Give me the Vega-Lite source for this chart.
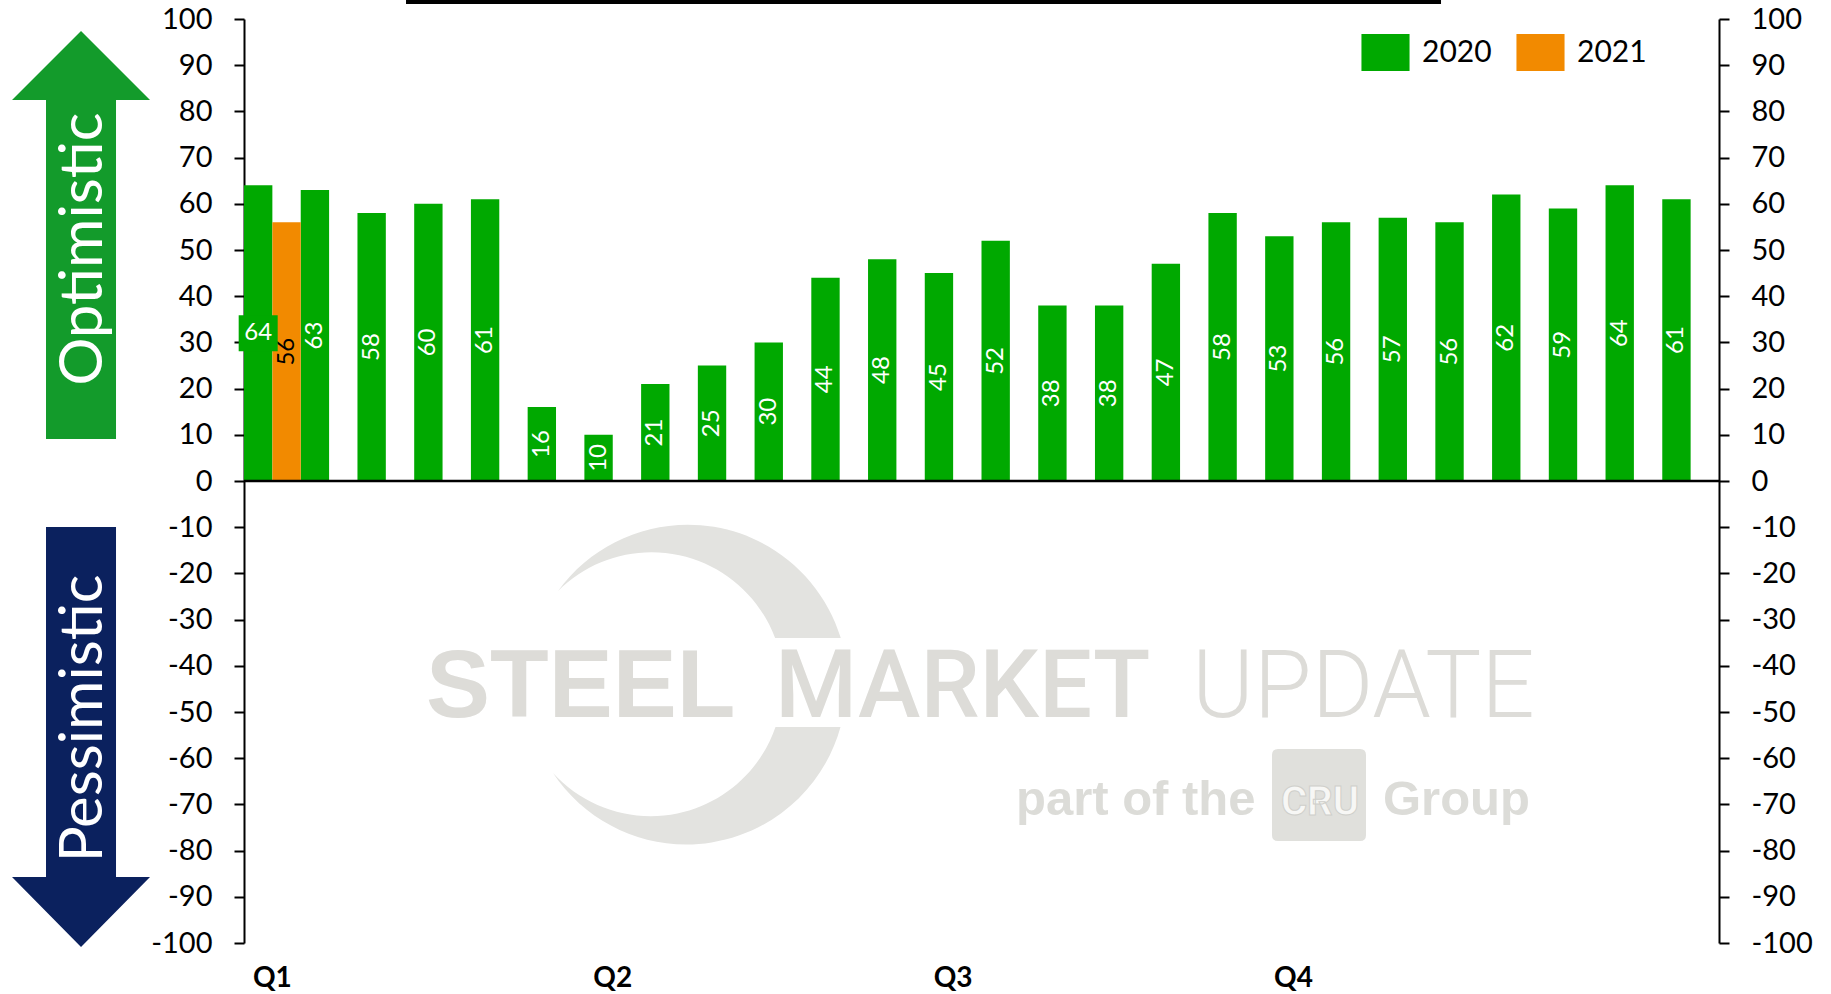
{
  "$schema": "https://vega.github.io/schema/vega-lite/v6.json",
  "width": 1475,
  "height": 924,
  "autosize": {"type": "none"},
  "padding": {"left": 244, "top": 19, "right": 112, "bottom": 51},
  "background": "white",
  "config": {
    "view": {"stroke": null},
    "font": "Lato",
    "axis": {"labelFont": "Lato", "titleFont": "Lato"},
    "legend": {"labelFont": "Lato"}
  },
  "data": {
    "values": [
      {"slot": 0, "year": "2020", "value": 64},
      {"slot": 1, "year": "2020", "value": 63},
      {"slot": 2, "year": "2020", "value": 58},
      {"slot": 3, "year": "2020", "value": 60},
      {"slot": 4, "year": "2020", "value": 61},
      {"slot": 5, "year": "2020", "value": 16},
      {"slot": 6, "year": "2020", "value": 10},
      {"slot": 7, "year": "2020", "value": 21},
      {"slot": 8, "year": "2020", "value": 25},
      {"slot": 9, "year": "2020", "value": 30},
      {"slot": 10, "year": "2020", "value": 44},
      {"slot": 11, "year": "2020", "value": 48},
      {"slot": 12, "year": "2020", "value": 45},
      {"slot": 13, "year": "2020", "value": 52},
      {"slot": 14, "year": "2020", "value": 38},
      {"slot": 15, "year": "2020", "value": 38},
      {"slot": 16, "year": "2020", "value": 47},
      {"slot": 17, "year": "2020", "value": 58},
      {"slot": 18, "year": "2020", "value": 53},
      {"slot": 19, "year": "2020", "value": 56},
      {"slot": 20, "year": "2020", "value": 57},
      {"slot": 21, "year": "2020", "value": 56},
      {"slot": 22, "year": "2020", "value": 62},
      {"slot": 23, "year": "2020", "value": 59},
      {"slot": 24, "year": "2020", "value": 64},
      {"slot": 25, "year": "2020", "value": 61},
      {"slot": 0, "year": "2021", "value": 56}
    ]
  },
  "resolve": {"scale": {"x": "independent", "y": "independent"}},
  "layer": [
    {
      "layer": [
        {
          "mark": {"type": "bar"},
          "encoding": {
            "x": {
              "field": "slot", "type": "ordinal",
              "scale": {"domain": [0,1,2,3,4,5,6,7,8,9,10,11,12,13,14,15,16,17,18,19,20,21,22,23,24,25], "paddingInner": 0, "paddingOuter": 0},
              "axis": {
                "orient": "bottom", "values": [0, 6, 12, 18],
                "labelExpr": "datum.value == 0 ? 'Q1' : datum.value == 6 ? 'Q2' : datum.value == 12 ? 'Q3' : 'Q4'",
                "labelFontWeight": "bold", "labelFontSize": 28, "labelColor": "black",
                "labelAngle": 0, "ticks": false, "domain": false, "labelPadding": 21,
                "title": null, "grid": false, "labelOverlap": false
              }
            },
            "xOffset": {"field": "year", "type": "nominal", "scale": {"domain": ["2020", "2021"], "paddingInner": 0, "paddingOuter": 0}},
            "y": {
              "field": "value", "type": "quantitative",
              "scale": {"domain": [-100, 100], "nice": false},
              "axis": {
                "orient": "left", "values": [-100,-90,-80,-70,-60,-50,-40,-30,-20,-10,0,10,20,30,40,50,60,70,80,90,100],
                "labelExpr": "'' + datum.value",
                "tickSize": 10, "tickWidth": 2, "tickColor": "black",
                "domainColor": "black", "domainWidth": 2,
                "labelFontSize": 29, "labelColor": "black", "labelPadding": 22,
                "grid": false, "title": null
              }
            },
            "color": {
              "field": "year", "type": "nominal",
              "scale": {"domain": ["2020", "2021"], "range": ["#00A900", "#F28A00"]},
              "legend": {
                "orient": "none", "legendX": 1123, "legendY": 15, "direction": "horizontal",
                "symbolType": "M-1.3,-1H1.3V1H-1.3Z", "symbolSize": 1369, "symbolStrokeWidth": 0,
                "symbolOpacity": 1,
                "labelFontSize": 30, "labelColor": "black", "labelOffset": 18,
                "columnPadding": 24, "title": null, "padding": 0
              }
            }
          }
        },
        {
          "data": {"values": [{"k": 0}]},
          "mark": {"type": "rule", "color": "black", "strokeWidth": 2.5},
          "encoding": {"y": {"datum": 0, "type": "quantitative"}}
        }
      ]
    },
    {
      "layer": [
        {
          "transform": [{"filter": "!(datum.slot == 0 && datum.year == '2020')"}],
          "mark": {"type": "text", "angle": 270, "align": "center", "baseline": "middle", "fontSize": 24, "font": "Lato"},
          "encoding": {
            "x": {"field": "slot", "type": "ordinal", "scale": {"domain": [0,1,2,3,4,5,6,7,8,9,10,11,12,13,14,15,16,17,18,19,20,21,22,23,24,25], "paddingInner": 0, "paddingOuter": 0}, "axis": null},
            "xOffset": {"field": "year", "type": "nominal", "scale": {"domain": ["2020", "2021"], "paddingInner": 0, "paddingOuter": 0}},
            "y": {"field": "value", "type": "quantitative", "scale": {"domain": [-200, 200], "nice": false}, "axis": null},
            "text": {"field": "value", "type": "quantitative"},
            "color": {"condition": {"test": "datum.year == '2021'", "value": "black"}, "value": "white"}
          }
        },
        {
          "transform": [{"filter": "datum.slot == 0 && datum.year == '2020'"}],
          "mark": {"type": "point", "shape": "M-19.5,-18H19.5V18H-19.5Z", "size": 4, "filled": true, "fill": "#00A900", "strokeWidth": 0, "opacity": 1},
          "encoding": {
            "x": {"field": "slot", "type": "ordinal", "scale": {"domain": [0,1,2,3,4,5,6,7,8,9,10,11,12,13,14,15,16,17,18,19,20,21,22,23,24,25], "paddingInner": 0, "paddingOuter": 0}, "axis": null},
            "xOffset": {"field": "year", "type": "nominal", "scale": {"domain": ["2020", "2021"], "paddingInner": 0, "paddingOuter": 0}},
            "y": {"field": "value", "type": "quantitative", "scale": {"domain": [-200, 200], "nice": false}, "axis": null}
          }
        },
        {
          "transform": [{"filter": "datum.slot == 0 && datum.year == '2020'"}],
          "mark": {"type": "text", "align": "center", "baseline": "middle", "fontSize": 24, "font": "Lato", "fill": "white"},
          "encoding": {
            "x": {"field": "slot", "type": "ordinal", "scale": {"domain": [0,1,2,3,4,5,6,7,8,9,10,11,12,13,14,15,16,17,18,19,20,21,22,23,24,25], "paddingInner": 0, "paddingOuter": 0}, "axis": null},
            "xOffset": {"field": "year", "type": "nominal", "scale": {"domain": ["2020", "2021"], "paddingInner": 0, "paddingOuter": 0}},
            "y": {"field": "value", "type": "quantitative", "scale": {"domain": [-200, 200], "nice": false}, "axis": null},
            "text": {"field": "value", "type": "quantitative"}
          }
        }
      ]
    },
    {
      "layer": [
        {
          "data": {"values": [{"k": "crescent"}]},
          "mark": {"type": "point", "shape": "M-129,-91A160,160 0 0 1 153.8,-44L88.1,-44A132,132 0 0 0 -129,-91ZM153.5,45A160,160 0 0 1 -134,91A132,132 0 0 0 88.5,45Z", "size": 4, "filled": true, "fill": "#e3e3e0", "strokeWidth": 0, "opacity": 1},
          "encoding": {
            "x": {"datum": 7.809, "type": "quantitative", "scale": {"domain": [0, 26], "nice": false, "zero": false}, "axis": null},
            "y": {"datum": -43.51, "type": "quantitative", "scale": {"domain": [-100, 100], "nice": false},
              "axis": {
                "orient": "right", "values": [-100,-90,-80,-70,-60,-50,-40,-30,-20,-10,0,10,20,30,40,50,60,70,80,90,100],
                "labelExpr": "'' + datum.value",
                "tickSize": 10, "tickWidth": 2, "tickColor": "black",
                "domainColor": "black", "domainWidth": 2,
                "labelFontSize": 29, "labelColor": "black", "labelPadding": 22,
                "grid": false, "title": null
              }
            }
          }
        },
        {
          "data": {"values": [{"k": "STEEL"}]},
          "mark": {"type": "text", "text": "STEEL", "font": "Liberation Sans", "fontWeight": "bold", "fontSize": 96, "align": "left", "baseline": "alphabetic", "fill": "#dddcd8"},
          "encoding": {
            "x": {"datum": 3.208, "type": "quantitative", "scale": {"domain": [0, 26], "nice": false, "zero": false}},
            "y": {"datum": -51.08, "type": "quantitative", "scale": {"domain": [-100, 100], "nice": false}}
          }
        },
        {
          "data": {"values": [{"k": "MARKET"}]},
          "mark": {"type": "text", "text": "MARKET", "font": "Roboto", "fontWeight": 500, "fontSize": 94, "align": "left", "baseline": "alphabetic", "fill": "#dddcd8"},
          "encoding": {
            "x": {"datum": 9.361, "type": "quantitative", "scale": {"domain": [0, 26], "nice": false, "zero": false}},
            "y": {"datum": -51.08, "type": "quantitative", "scale": {"domain": [-100, 100], "nice": false}}
          }
        },
        {
          "data": {"values": [{"k": "UPDATE"}]},
          "mark": {"type": "text", "text": "UPDATE", "font": "Roboto", "fontWeight": 300, "fontSize": 94, "align": "left", "baseline": "alphabetic", "fill": "#dddcd8"},
          "encoding": {
            "x": {"datum": 16.711, "type": "quantitative", "scale": {"domain": [0, 26], "nice": false, "zero": false}},
            "y": {"datum": -51.08, "type": "quantitative", "scale": {"domain": [-100, 100], "nice": false}}
          }
        },
        {
          "data": {"values": [{"k": "part"}]},
          "mark": {"type": "text", "text": "part of the", "font": "Liberation Sans", "fontWeight": "bold", "fontSize": 49, "align": "left", "baseline": "alphabetic", "fill": "#dcdcd8"},
          "encoding": {
            "x": {"datum": 13.608, "type": "quantitative", "scale": {"domain": [0, 26], "nice": false, "zero": false}},
            "y": {"datum": -72.29, "type": "quantitative", "scale": {"domain": [-100, 100], "nice": false}}
          }
        },
        {
          "data": {"values": [{"k": "crubox"}]},
          "mark": {"type": "point", "shape": "M-41,-46H41Q47,-46 47,-40V40Q47,46 41,46H-41Q-47,46 -47,40V-40Q-47,-46 -41,-46Z", "size": 4, "filled": true, "fill": "#e0e0dc", "strokeWidth": 0, "opacity": 1},
          "encoding": {
            "x": {"datum": 18.949, "type": "quantitative", "scale": {"domain": [0, 26], "nice": false, "zero": false}},
            "y": {"datum": -67.97, "type": "quantitative", "scale": {"domain": [-100, 100], "nice": false}}
          }
        },
        {
          "data": {"values": [{"k": "CRU"}]},
          "mark": {"type": "text", "text": "CRU", "font": "Liberation Sans Narrow, Roboto", "fontWeight": "bold", "fontSize": 40, "align": "center", "baseline": "alphabetic", "fill": "#f7f7f5", "stroke": "#cfcfcb", "strokeWidth": 1},
          "encoding": {
            "x": {"datum": 18.967, "type": "quantitative", "scale": {"domain": [0, 26], "nice": false, "zero": false}},
            "y": {"datum": -72.29, "type": "quantitative", "scale": {"domain": [-100, 100], "nice": false}}
          }
        },
        {
          "data": {"values": [{"k": "Group"}]},
          "mark": {"type": "text", "text": "Group", "font": "Liberation Sans", "fontWeight": "bold", "fontSize": 49, "align": "left", "baseline": "alphabetic", "fill": "#dcdcd8"},
          "encoding": {
            "x": {"datum": 20.077, "type": "quantitative", "scale": {"domain": [0, 26], "nice": false, "zero": false}},
            "y": {"datum": -72.29, "type": "quantitative", "scale": {"domain": [-100, 100], "nice": false}}
          }
        },
        {
          "data": {"values": [{"k": "topline"}]},
          "mark": {"type": "rule", "color": "black", "strokeWidth": 4},
          "encoding": {
            "x": {"datum": 2.856, "type": "quantitative", "scale": {"domain": [0, 26], "nice": false, "zero": false}},
            "x2": {"datum": 21.1},
            "y": {"datum": 103.7, "type": "quantitative", "scale": {"domain": [-100, 100], "nice": false}}
          }
        },
        {
          "data": {"values": [{"k": "up"}]},
          "mark": {"type": "point", "shape": "M0,-204L69,-135L35,-135L35,204L-35,204L-35,-135L-69,-135Z", "size": 4, "filled": true, "fill": "#139B2B", "strokeWidth": 0, "opacity": 1},
          "encoding": {
            "x": {"datum": -2.873, "type": "quantitative", "scale": {"domain": [0, 26], "nice": false, "zero": false}},
            "y": {"datum": 53.25, "type": "quantitative", "scale": {"domain": [-100, 100], "nice": false}}
          }
        },
        {
          "data": {"values": [{"k": "down"}]},
          "mark": {"type": "point", "shape": "M-35,-210L35,-210L35,140L69,140L0,210L-69,140L-35,140Z", "size": 4, "filled": true, "fill": "#0B215E", "strokeWidth": 0, "opacity": 1},
          "encoding": {
            "x": {"datum": -2.873, "type": "quantitative", "scale": {"domain": [0, 26], "nice": false, "zero": false}},
            "y": {"datum": -55.41, "type": "quantitative", "scale": {"domain": [-100, 100], "nice": false}}
          }
        },
        {
          "data": {"values": [{"k": "opt"}]},
          "mark": {"type": "text", "text": "Optimistic", "font": "Lato", "fontSize": 60, "angle": 270, "align": "center", "baseline": "alphabetic", "fill": "white"},
          "encoding": {
            "x": {"datum": -2.503, "type": "quantitative", "scale": {"domain": [0, 26], "nice": false, "zero": false}},
            "y": {"datum": 50.2, "type": "quantitative", "scale": {"domain": [-100, 100], "nice": false}}
          }
        },
        {
          "data": {"values": [{"k": "pes"}]},
          "mark": {"type": "text", "text": "Pessimistic", "font": "Lato", "fontSize": 60, "angle": 270, "align": "center", "baseline": "alphabetic", "fill": "white"},
          "encoding": {
            "x": {"datum": -2.503, "type": "quantitative", "scale": {"domain": [0, 26], "nice": false, "zero": false}},
            "y": {"datum": -51.4, "type": "quantitative", "scale": {"domain": [-100, 100], "nice": false}}
          }
        }
      ]
    }
  ]
}
